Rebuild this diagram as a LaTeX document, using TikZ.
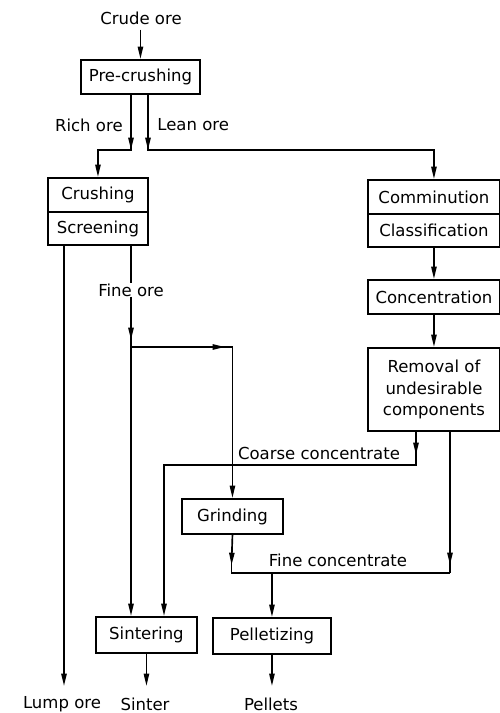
\documentclass[tikz,border=0pt]{standalone}
\usepackage{fontspec}
\setmainfont{DejaVu Sans}
\usetikzlibrary{arrows.meta}
\begin{document}
\begin{tikzpicture}[x=0.02cm,y=-0.02cm,
  box/.style={draw, line width=1.1pt, inner sep=0pt, anchor=north west, font=\fontsize{9.4}{12.3}\selectfont},
  lbl/.style={inner sep=0pt, font=\fontsize{9.4}{12.3}\selectfont},
  flow/.style={line width=0.95pt},
  arr/.style={flow, -{Triangle[length=7pt,width=3pt]}}]
\useasboundingbox (0,0) rectangle (500,713);
% boxes
\node[box, minimum width=2.38cm, minimum height=0.68cm] (pre) at (80,59) {Pre-crushing};
\node[box, minimum width=2.00cm, minimum height=0.68cm] (crush) at (47,177) {Crushing};
\node[box, minimum width=2.00cm, minimum height=0.66cm] (screen) at (47,211) {Screening};
\node[box, minimum width=2.64cm, minimum height=0.68cm] (commin) at (367,179) {Comminution};
\node[box, minimum width=2.64cm, minimum height=0.66cm] (classif) at (367,213) {Classification};
\node[box, minimum width=2.64cm, minimum height=0.68cm] (concen) at (367,279) {Concentration};
\node[box, minimum width=2.64cm, minimum height=1.66cm, align=center] (removal) at (367,347) {Removal of\\undesirable\\components};
\node[box, minimum width=2.02cm, minimum height=0.70cm] (grind) at (181,498) {Grinding};
\node[box, minimum width=2.02cm, minimum height=0.72cm] (sinter) at (95,616) {Sintering};
\node[box, minimum width=2.36cm, minimum height=0.72cm] (pellet) at (212,617) {Pelletizing};
% labels
\node[lbl] (crude) at (141,18) {Crude ore};
\node[lbl, anchor=east] (rich) at (123,125) {Rich ore};
\node[lbl, anchor=west] (lean) at (157,125) {Lean ore};
\node[lbl] (fine) at (131,290) {Fine ore};
\node[lbl] (coarse) at (319,453) {Coarse concentrate};
\node[lbl] (fineconc) at (338,560) {Fine concentrate};
\node[lbl] (lump) at (62,704) {Lump ore};
\node[lbl] (sinterout) at (145,704) {Sinter};
\node[lbl] (pellets) at (271,704) {Pellets};
% columns and rows
\coordinate (xR) at (131,0);
\coordinate (xL) at (148,0);
\coordinate (xLump) at (64,0);
\coordinate (xCo) at (164,0);
\coordinate (xCc) at (416,0);
\coordinate (xFc) at (450,0);
\coordinate (yC) at (0,465);
\coordinate (yF) at (0,573);
\coordinate (yEnd) at (0,686);
\coordinate (richT) at (131,150);
\coordinate (leanT) at (148,150);
\coordinate (fA) at (131,340);
\coordinate (J) at (131,347);
\coordinate (Jarr) at (225,347);
\coordinate (cA) at (416,455);
\coordinate (gA) at (231.5,565);
\coordinate (fcA) at (450,565);
% connectors
\draw[arr] (pre.north |- crude.south) ++(0,5) -- (pre.north);
\draw[arr] (pre.south -| xR) -- (richT);
\draw[arr] (richT) ++(0,-6) -- (richT) -| (crush.north);
\draw[arr] (pre.south -| xL) -- (leanT);
\draw[arr] (leanT) ++(0,-6) -- (leanT) -| (commin.north);
\draw[arr] (classif.south) -- (concen.north);
\draw[arr] (concen.south) -- (removal.north);
\draw[flow] (screen.south -| xR) -- (fine.north);
\draw[arr] (fine.south) -- (fA);
\draw[arr] (fA) ++(0,-6) -- (sinter.north -| xR);
\draw[arr] (J) -- (Jarr);
\draw[arr] (Jarr) ++(-6,0) -- (Jarr) -| (grind.north);
\draw[arr] (removal.south -| xCc) -- (cA);
\draw[arr] (cA) ++(0,-6) -- (cA) |- (xCo |- yC) -- (sinter.north -| xCo);
\draw[arr] (grind.south) -- (gA);
\draw[flow] (gA) ++(0,-6) -- (gA) |- (xFc |- yF);
\draw[arr] (removal.south -| xFc) -- (fcA);
\draw[flow] (fcA) ++(0,-6) -- (xFc |- yF);
\draw[arr] (pellet.north |- yF) -- (pellet.north);
\draw[arr] (screen.south -| xLump) -- (xLump |- yEnd);
\draw[arr] (sinter.south) -- (sinter.south |- yEnd);
\draw[arr] (pellet.south) -- (pellet.south |- yEnd);
\end{tikzpicture}
\end{document}
